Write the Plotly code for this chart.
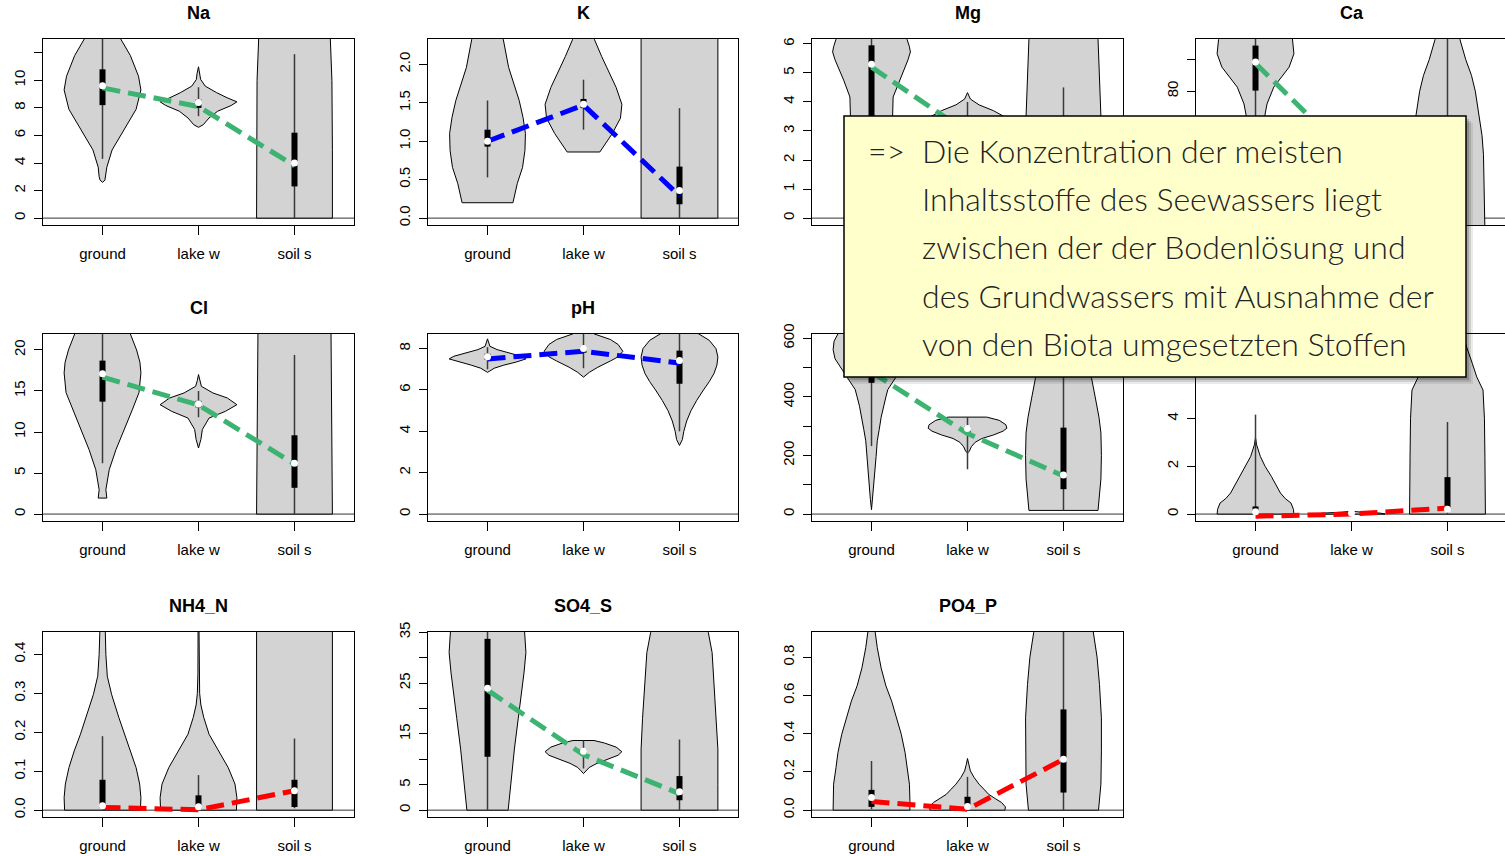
import plotly.graph_objects as go

W, H = 1505, 856
GROUPS = ["ground", "lake w", "soil s"]

# ---------------- data ----------------
# violin outlines: value levels (top -> bottom) and relative density (half width, max 0.4)
# box stats per group: [whisker low, q1, median, q3, whisker high]
# trend line values (ground, lake w, soil s)

# Na
na_ground_lvl = [13.6, 13.1, 11.8, 10.3, 9.3, 7.9, 6.4, 4.95, 3.7, 3.0, 2.75, 2.6]
na_ground_dens = [0.14, 0.18, 0.29, 0.375, 0.40, 0.35, 0.22, 0.10, 0.045, 0.035, 0.025, 0.0]
na_lake_lvl = [10.98, 10.5, 10.07, 9.58, 9.1, 8.73, 8.44, 8.17, 7.76, 7.27, 6.78, 6.59]
na_lake_dens = [0.0, 0.015, 0.022, 0.07, 0.19, 0.30, 0.40, 0.34, 0.20, 0.11, 0.05, 0.0]
na_soil_lvl = [13.6, 10.0, 5.0, 0.0]
na_soil_dens = [0.37, 0.39, 0.395, 0.395]
na_box = [[4.3, 8.2, 9.6, 10.8, 14.0], [7.4, 8.0, 8.4, 8.6, 9.5], [0.0, 2.3, 4.0, 6.2, 11.9]]
na_line = [9.45, 8.1, 3.8]

# K
k_ground_lvl = [2.5, 2.32, 1.96, 1.74, 1.53, 1.31, 1.1, 0.88, 0.66, 0.45, 0.23, 0.2]
k_ground_dens = [0.15, 0.165, 0.22, 0.275, 0.33, 0.37, 0.395, 0.39, 0.365, 0.31, 0.27, 0.265]
k_lake_lvl = [2.5, 2.32, 2.1, 1.96, 1.7, 1.48, 1.3, 1.1, 0.97, 0.86]
k_lake_dens = [0.09, 0.115, 0.19, 0.24, 0.34, 0.40, 0.385, 0.30, 0.23, 0.17]
k_soil_lvl = [2.5, 0.0]
k_soil_dens = [0.40, 0.40]
k_box = [[0.53, 0.93, 1.0, 1.15, 1.53], [1.15, 1.43, 1.48, 1.55, 1.80], [0.0, 0.18, 0.36, 0.67, 1.43]]
k_line = [1.0, 1.47, 0.29]

# Mg
mg_ground_lvl = [6.4, 6.16, 5.9, 5.72, 5.45, 5.2, 4.75, 4.17, 3.54, 3.0, 2.5, 2.0, 1.5, 1.1]
mg_ground_dens = [0.36, 0.37, 0.395, 0.405, 0.38, 0.35, 0.29, 0.225, 0.22, 0.2, 0.15, 0.1, 0.05, 0.0]
mg_lake_lvl = [4.32, 4.1, 3.9, 3.7, 3.5, 3.3, 3.1, 2.9, 2.7, 2.5]
mg_lake_dens = [0.0, 0.03, 0.12, 0.27, 0.38, 0.40, 0.33, 0.2, 0.08, 0.0]
mg_soil_lvl = [6.4, 6.16, 3.5, 0.0]
mg_soil_dens = [0.355, 0.36, 0.39, 0.39]
mg_box = [[1.5, 3.0, 5.3, 5.95, 6.5], [2.8, 3.0, 3.1, 3.4, 4.0], [0.0, 0.8, 1.5, 2.6, 4.5]]
mg_line = [5.2, 2.95, 1.4]

# Ca
ca_ground_lvl = [98.0, 96.3, 91.8, 87.6, 81.3, 76.0, 72.8, 68.0, 62.0, 56.0, 50.0, 45.0]
ca_ground_dens = [0.38, 0.385, 0.40, 0.35, 0.19, 0.12, 0.10, 0.09, 0.07, 0.05, 0.03, 0.0]
ca_lake_lvl = [66.0, 63.0, 60.0, 57.0, 54.0]
ca_lake_dens = [0.0, 0.2, 0.4, 0.2, 0.0]
ca_soil_lvl = [98.0, 96.3, 90.0, 85.0, 80.0, 72.0, 66.0, 60.0, 50.0, 36.0]
ca_soil_dens = [0.12, 0.13, 0.19, 0.25, 0.29, 0.33, 0.36, 0.375, 0.385, 0.39]
ca_box = [[70.0, 80.2, 89.2, 94.4, 99.0], [56.0, 58.5, 59.5, 61.0, 64.0], [40.0, 44.0, 48.0, 58.0, 99.0]]
ca_line = [88.8, 59.0, 47.0]

# Cl
cl_ground_lvl = [23.0, 21.95, 20.0, 18.5, 17.2, 14.8, 12.7, 10.3, 7.85, 5.4, 2.97, 1.95]
cl_ground_dens = [0.27, 0.29, 0.355, 0.39, 0.40, 0.38, 0.31, 0.225, 0.14, 0.07, 0.035, 0.045]
cl_lake_lvl = [17.0, 16.3, 15.57, 14.76, 14.15, 13.33, 12.52, 11.7, 10.3, 9.1, 8.05]
cl_lake_dens = [0.0, 0.012, 0.03, 0.15, 0.30, 0.40, 0.28, 0.11, 0.04, 0.025, 0.0]
cl_soil_lvl = [23.0, 0.0]
cl_soil_dens = [0.38, 0.395]
cl_box = [[6.2, 13.7, 17.1, 18.7, 23.0], [11.8, 13.0, 13.4, 13.8, 15.0], [0.0, 3.2, 6.2, 9.6, 19.4]]
cl_line = [16.7, 13.3, 6.1]

# pH
ph_ground_lvl = [8.47, 8.3, 8.11, 7.95, 7.8, 7.63, 7.5, 7.35, 7.2, 7.05, 6.92, 6.85]
ph_ground_dens = [0.0, 0.015, 0.025, 0.1, 0.22, 0.35, 0.40, 0.30, 0.17, 0.07, 0.025, 0.0]
ph_lake_lvl = [9.0, 8.71, 8.44, 8.2, 7.87, 7.6, 7.4, 7.1, 6.85, 6.62]
ph_lake_dens = [0.05, 0.11, 0.28, 0.36, 0.41, 0.36, 0.28, 0.15, 0.06, 0.0]
ph_soil_lvl = [9.0, 8.71, 8.4, 8.0, 7.6, 7.2, 6.8, 6.4, 6.0, 5.5, 5.0, 4.5, 4.0, 3.6, 3.32]
ph_soil_dens = [0.12, 0.2, 0.31, 0.38, 0.40, 0.39, 0.36, 0.31, 0.25, 0.18, 0.12, 0.075, 0.045, 0.03, 0.0]
ph_box = [[7.0, 7.45, 7.6, 7.75, 8.07], [7.05, 7.8, 8.0, 8.1, 9.0], [4.0, 6.3, 7.42, 7.9, 9.0]]
ph_line = [7.5, 7.87, 7.3]

# EC (title hidden under the note)
ec_ground_lvl = [640, 615, 590, 561, 530, 505, 470, 440, 425, 400, 368, 330, 288, 250, 197, 150, 100, 83, 50, 15]
ec_ground_dens = [0.33, 0.35, 0.39, 0.40, 0.38, 0.33, 0.26, 0.2, 0.17, 0.15, 0.125, 0.1, 0.08, 0.06, 0.048, 0.035, 0.025, 0.02, 0.012, 0.0]
ec_lake_lvl = [331, 320, 305, 293, 283, 270, 258, 245, 230, 215, 208]
ec_lake_dens = [0.2, 0.33, 0.40, 0.41, 0.37, 0.27, 0.15, 0.08, 0.04, 0.02, 0.0]
ec_soil_lvl = [640, 560, 500, 468, 400, 330, 277, 200, 120, 60, 12.5]
ec_soil_dens = [0.15, 0.2, 0.26, 0.29, 0.33, 0.37, 0.39, 0.395, 0.39, 0.37, 0.36]
ec_box = [[232, 448, 520, 565, 640], [153, 275, 292, 300, 331], [12.5, 85, 133, 295, 640]]
ec_line = [485, 275, 130]

# NO3_N (title hidden under the note)
no3_ground_lvl = [3.2, 2.9, 2.42, 2.0, 1.58, 1.2, 0.88, 0.65, 0.46, 0.2, 0.0]
no3_ground_dens = [0.0, 0.012, 0.05, 0.1, 0.165, 0.215, 0.26, 0.31, 0.37, 0.395, 0.40]
no3_lake_lvl = [0.12, 0.08, 0.04, 0.0]
no3_lake_dens = [0.0, 0.1, 0.3, 0.35]
no3_soil_lvl = [7.8, 7.0, 6.3, 5.75, 5.2, 4.0, 2.4, 1.0, 0.0]
no3_soil_dens = [0.15, 0.2, 0.26, 0.305, 0.37, 0.385, 0.39, 0.395, 0.395]
no3_box = [[0.0, 0.05, 0.1, 0.32, 4.17], [0.0, 0.01, 0.05, 0.06, 0.1], [0.0, 0.15, 0.2, 1.55, 3.86]]
no3_line = [-0.09, 0.0, 0.25]

# NH4_N
nh4_ground_lvl = [0.5, 0.458, 0.40, 0.344, 0.297, 0.238, 0.195, 0.152, 0.109, 0.067, 0.032, 0.0]
nh4_ground_dens = [0.025, 0.028, 0.035, 0.05, 0.095, 0.17, 0.23, 0.295, 0.35, 0.387, 0.40, 0.395]
nh4_lake_lvl = [0.5, 0.35, 0.30, 0.27, 0.238, 0.195, 0.152, 0.109, 0.067, 0.032, 0.0]
nh4_lake_dens = [0.004, 0.006, 0.012, 0.025, 0.055, 0.11, 0.21, 0.31, 0.38, 0.40, 0.395]
nh4_soil_lvl = [0.5, 0.0]
nh4_soil_dens = [0.395, 0.395]
nh4_box = [[0.0, 0.005, 0.011, 0.078, 0.19], [0.0, 0.003, 0.009, 0.038, 0.09], [0.005, 0.008, 0.05, 0.078, 0.184]]
nh4_line = [0.007, 0.001, 0.05]

# SO4_S
so4_ground_lvl = [37, 35, 31, 27, 22, 18, 12, 6, 0]
so4_ground_dens = [0.38, 0.385, 0.40, 0.38, 0.35, 0.32, 0.28, 0.245, 0.215]
so4_lake_lvl = [13.7, 13.2, 12.4, 11.5, 10.8, 10.0, 9.2, 8.4, 7.8, 7.2]
so4_lake_dens = [0.11, 0.22, 0.34, 0.40, 0.36, 0.25, 0.14, 0.06, 0.03, 0.0]
so4_soil_lvl = [37, 35, 31, 25, 18, 12, 5, 0]
so4_soil_dens = [0.29, 0.3, 0.34, 0.36, 0.385, 0.40, 0.40, 0.40]
so4_box = [[0.0, 10.5, 24.0, 33.7, 37.0], [8.2, 10.9, 11.6, 12.0, 13.7], [0.0, 1.95, 3.6, 6.7, 13.9]]
so4_line = [23.6, 10.9, 3.25]

# PO4_P
po4_ground_lvl = [1.0, 0.93, 0.85, 0.744, 0.65, 0.57, 0.48, 0.397, 0.30, 0.223, 0.136, 0.05, 0.0]
po4_ground_dens = [0.02, 0.035, 0.06, 0.1, 0.15, 0.21, 0.26, 0.31, 0.35, 0.37, 0.395, 0.40, 0.40]
po4_lake_lvl = [0.27, 0.24, 0.205, 0.17, 0.136, 0.11, 0.083, 0.06, 0.04, 0.017, 0.0]
po4_lake_dens = [0.0, 0.012, 0.03, 0.07, 0.12, 0.17, 0.22, 0.29, 0.355, 0.395, 0.39]
po4_soil_lvl = [1.0, 0.93, 0.8, 0.657, 0.483, 0.31, 0.136, 0.0]
po4_soil_dens = [0.29, 0.31, 0.35, 0.375, 0.395, 0.395, 0.39, 0.365]
po4_box = [[0.005, 0.017, 0.066, 0.106, 0.257], [0.0, 0.01, 0.019, 0.07, 0.174], [0.0, 0.092, 0.266, 0.527, 1.0]]
po4_line = [0.045, 0.005, 0.266]

# y-axis limits and ticks
Y_LIM = {"Na": (0, 12.5), "K": (0, 2.24), "Mg": (0, 5.93), "Ca": (40, 94.3),
         "Cl": (0, 21.1), "pH": (0, 8.37), "EC": (0, 591), "NO3_N": (0, 7.26),
         "NH4_N": (0, 0.44), "SO4_S": (0, 33.7), "PO4_P": (0, 0.896)}
Y_TICKS = {"Na": [0, 2, 4, 6, 8, 10, 12], "K": [0, 0.5, 1, 1.5, 2], "Mg": [0, 1, 2, 3, 4, 5, 6],
           "Ca": [40, 50, 60, 70, 80, 90], "Cl": [0, 5, 10, 15, 20], "pH": [0, 2, 4, 6, 8],
           "EC": [0, 100, 200, 300, 400, 500, 600], "NO3_N": [0, 2, 4, 6],
           "NH4_N": [0, 0.1, 0.2, 0.3, 0.4], "SO4_S": [0, 5, 10, 15, 20, 25, 30, 35],
           "PO4_P": [0, 0.2, 0.4, 0.6, 0.8]}
# labels hidden under the note box are left blank
Y_TICKTEXT = {"Na": ["0", "2", "4", "6", "8", "10", ""], "K": ["0.0", "0.5", "1.0", "1.5", "2.0"],
              "Mg": ["0", "1", "2", "3", "4", "5", "6"], "Ca": ["", "", "", "", "80", ""],
              "Cl": ["0", "5", "10", "15", "20"], "pH": ["0", "2", "4", "6", "8"],
              "EC": ["0", "", "200", "", "400", "", "600"], "NO3_N": ["0", "2", "4", ""],
              "NH4_N": ["0.0", "0.1", "0.2", "0.3", "0.4"],
              "SO4_S": ["0", "5", "", "15", "", "25", "", "35"],
              "PO4_P": ["0.0", "0.2", "0.4", "0.6", "0.8"]}

NOTE_LINES = ["Die Konzentration der meisten", "Inhaltsstoffe des Seewassers liegt",
              "zwischen der der Bodenlösung und", "des Grundwassers mit Ausnahme der",
              "von den Biota umgesetzten Stoffen"]

# ---------------- assemble ----------------
GREEN, BLUE, RED = "#3CB371", "#0000FF", "#FF0000"
panels = [
    ("Na", [(na_ground_lvl, na_ground_dens), (na_lake_lvl, na_lake_dens), (na_soil_lvl, na_soil_dens)], na_box, na_line, GREEN, True, True),
    ("K", [(k_ground_lvl, k_ground_dens), (k_lake_lvl, k_lake_dens), (k_soil_lvl, k_soil_dens)], k_box, k_line, BLUE, True, True),
    ("Mg", [(mg_ground_lvl, mg_ground_dens), (mg_lake_lvl, mg_lake_dens), (mg_soil_lvl, mg_soil_dens)], mg_box, mg_line, GREEN, True, False),
    ("Ca", [(ca_ground_lvl, ca_ground_dens), (ca_lake_lvl, ca_lake_dens), (ca_soil_lvl, ca_soil_dens)], ca_box, ca_line, GREEN, True, False),
    ("Cl", [(cl_ground_lvl, cl_ground_dens), (cl_lake_lvl, cl_lake_dens), (cl_soil_lvl, cl_soil_dens)], cl_box, cl_line, GREEN, True, True),
    ("pH", [(ph_ground_lvl, ph_ground_dens), (ph_lake_lvl, ph_lake_dens), (ph_soil_lvl, ph_soil_dens)], ph_box, ph_line, BLUE, True, True),
    ("EC", [(ec_ground_lvl, ec_ground_dens), (ec_lake_lvl, ec_lake_dens), (ec_soil_lvl, ec_soil_dens)], ec_box, ec_line, GREEN, False, True),
    ("NO3_N", [(no3_ground_lvl, no3_ground_dens), (no3_lake_lvl, no3_lake_dens), (no3_soil_lvl, no3_soil_dens)], no3_box, no3_line, RED, False, True),
    ("NH4_N", [(nh4_ground_lvl, nh4_ground_dens), (nh4_lake_lvl, nh4_lake_dens), (nh4_soil_lvl, nh4_soil_dens)], nh4_box, nh4_line, RED, True, True),
    ("SO4_S", [(so4_ground_lvl, so4_ground_dens), (so4_lake_lvl, so4_lake_dens), (so4_soil_lvl, so4_soil_dens)], so4_box, so4_line, GREEN, True, True),
    ("PO4_P", [(po4_ground_lvl, po4_ground_dens), (po4_lake_lvl, po4_lake_dens), (po4_soil_lvl, po4_soil_dens)], po4_box, po4_line, RED, True, True),
]

COL_X = [(43, 354), (428, 738), (812, 1123), (1196, 1507)]
ROW_Y = [(39, 225), (334, 521), (632, 817)]
X_PER_PX = 3.24 / 311.0
FONT = "Liberation Sans, Arial, sans-serif"

fig = go.Figure()
layout = dict(width=W, height=H, margin=dict(l=0, r=0, t=0, b=0, pad=0, autoexpand=False),
              paper_bgcolor="white", plot_bgcolor="white", showlegend=False)
shapes = []
annotations = []

for idx, (name, violins, box, line, lcol, show_title, show_xlab) in enumerate(panels):
    r, c = divmod(idx, 4)
    x0p, x1p = COL_X[c]
    y0p, y1p = ROW_Y[r]
    x1p_eff = min(x1p, W)
    xs = "" if idx == 0 else str(idx + 1)
    xa, ya = "x" + xs, "y" + xs
    ymin, ymax = Y_LIM[name]
    span = ymax - ymin
    yr = [ymin - 0.04 * span, ymax + 0.04 * span]
    xr = [0.38, 0.38 + (x1p_eff - x0p) * X_PER_PX]

    common = dict(showgrid=False, zeroline=False, showline=True, mirror=True,
                  linecolor="black", linewidth=1, ticks="outside", tickcolor="black",
                  tickwidth=1, automargin=False,
                  tickfont=dict(family=FONT, size=15, color="black"))
    layout["xaxis" + xs] = dict(domain=[x0p / W, x1p_eff / W], range=xr, anchor=ya,
                                tickvals=[1, 2, 3],
                                ticktext=GROUPS if show_xlab else ["", "", ""],
                                ticklen=9, ticklabelstandoff=6, **common)
    layout["yaxis" + xs] = dict(domain=[1 - y1p / H, 1 - y0p / H], range=yr, anchor=xa,
                                tickvals=Y_TICKS[name], ticktext=Y_TICKTEXT[name],
                                tickangle=-90, ticklen=8, ticklabelstandoff=3, **common)

    # horizontal reference line at the lower limit
    shapes.append(dict(type="line", xref=xa + " domain", yref=ya, x0=0, x1=1,
                       y0=ymin, y1=ymin, line=dict(color="#333333", width=1), layer="below"))

    for g, (lvl, dens) in enumerate(violins):
        pos = g + 1
        vx = [pos + d for d in dens] + [pos - d for d in reversed(dens)]
        vy = list(lvl) + list(reversed(lvl))
        vx.append(vx[0]); vy.append(vy[0])
        fig.add_trace(go.Scatter(x=vx, y=vy, xaxis=xa, yaxis=ya, mode="lines",
                                 fill="toself", fillcolor="#D3D3D3",
                                 line=dict(color="black", width=1), hoverinfo="skip"))
        wl, q1, med, q3, wh = box[g]
        fig.add_trace(go.Scatter(x=[pos, pos], y=[wl, wh], xaxis=xa, yaxis=ya, mode="lines",
                                 line=dict(color="#3a3a3a", width=1.5), hoverinfo="skip"))
        fig.add_trace(go.Scatter(x=[pos, pos], y=[q1, q3], xaxis=xa, yaxis=ya, mode="lines",
                                 line=dict(color="black", width=6), hoverinfo="skip"))

    fig.add_trace(go.Scatter(x=[1, 2, 3], y=line, xaxis=xa, yaxis=ya, mode="lines",
                             line=dict(color=lcol, width=5, dash="18px,8px"), hoverinfo="skip"))
    fig.add_trace(go.Scatter(x=[1, 2, 3], y=[b[2] for b in box], xaxis=xa, yaxis=ya,
                             mode="markers", marker=dict(color="white", size=7, line=dict(width=0)),
                             hoverinfo="skip"))

    if show_title:
        annotations.append(dict(text="<b>%s</b>" % name, xref="paper", yref="paper",
                                x=(x0p + x1p) / 2 / W, y=1 - (y0p - 26) / H,
                                xanchor="center", yanchor="middle", showarrow=False,
                                font=dict(family=FONT, size=18, color="black")))

# note box with a soft shadow
bx0, bx1, by0, by1 = 844, 1466, 116, 377
for off, alpha in [(7, 0.08), (5, 0.12), (3, 0.18)]:
    shapes.append(dict(type="rect", xref="paper", yref="paper",
                       x0=(bx0 + off) / W, x1=(bx1 + off) / W,
                       y0=1 - (by1 + off) / H, y1=1 - (by0 + off) / H,
                       fillcolor="rgba(0,0,0,%s)" % alpha, line=dict(width=0), layer="above"))
shapes.append(dict(type="rect", xref="paper", yref="paper", x0=bx0 / W, x1=bx1 / W,
                   y0=1 - by1 / H, y1=1 - by0 / H, fillcolor="#FFFFCC",
                   line=dict(color="black", width=1.5), layer="above"))

NOTE_FONT = dict(family="Lato, Open Sans, sans-serif", size=32, color="#222222", weight=300)
annotations.append(dict(text="=>", xref="paper", yref="paper", x=866 / W, y=1 - 151 / H,
                        xanchor="left", yanchor="middle", showarrow=False, font=NOTE_FONT))
for k, txt in enumerate(NOTE_LINES):
    annotations.append(dict(text=txt, xref="paper", yref="paper", x=920 / W,
                            y=1 - (151 + 48 * k) / H, xanchor="left", yanchor="middle",
                            showarrow=False, font=NOTE_FONT))

layout["shapes"] = shapes
layout["annotations"] = annotations
fig.update_layout(**layout)
fig.write_html("out.html")
